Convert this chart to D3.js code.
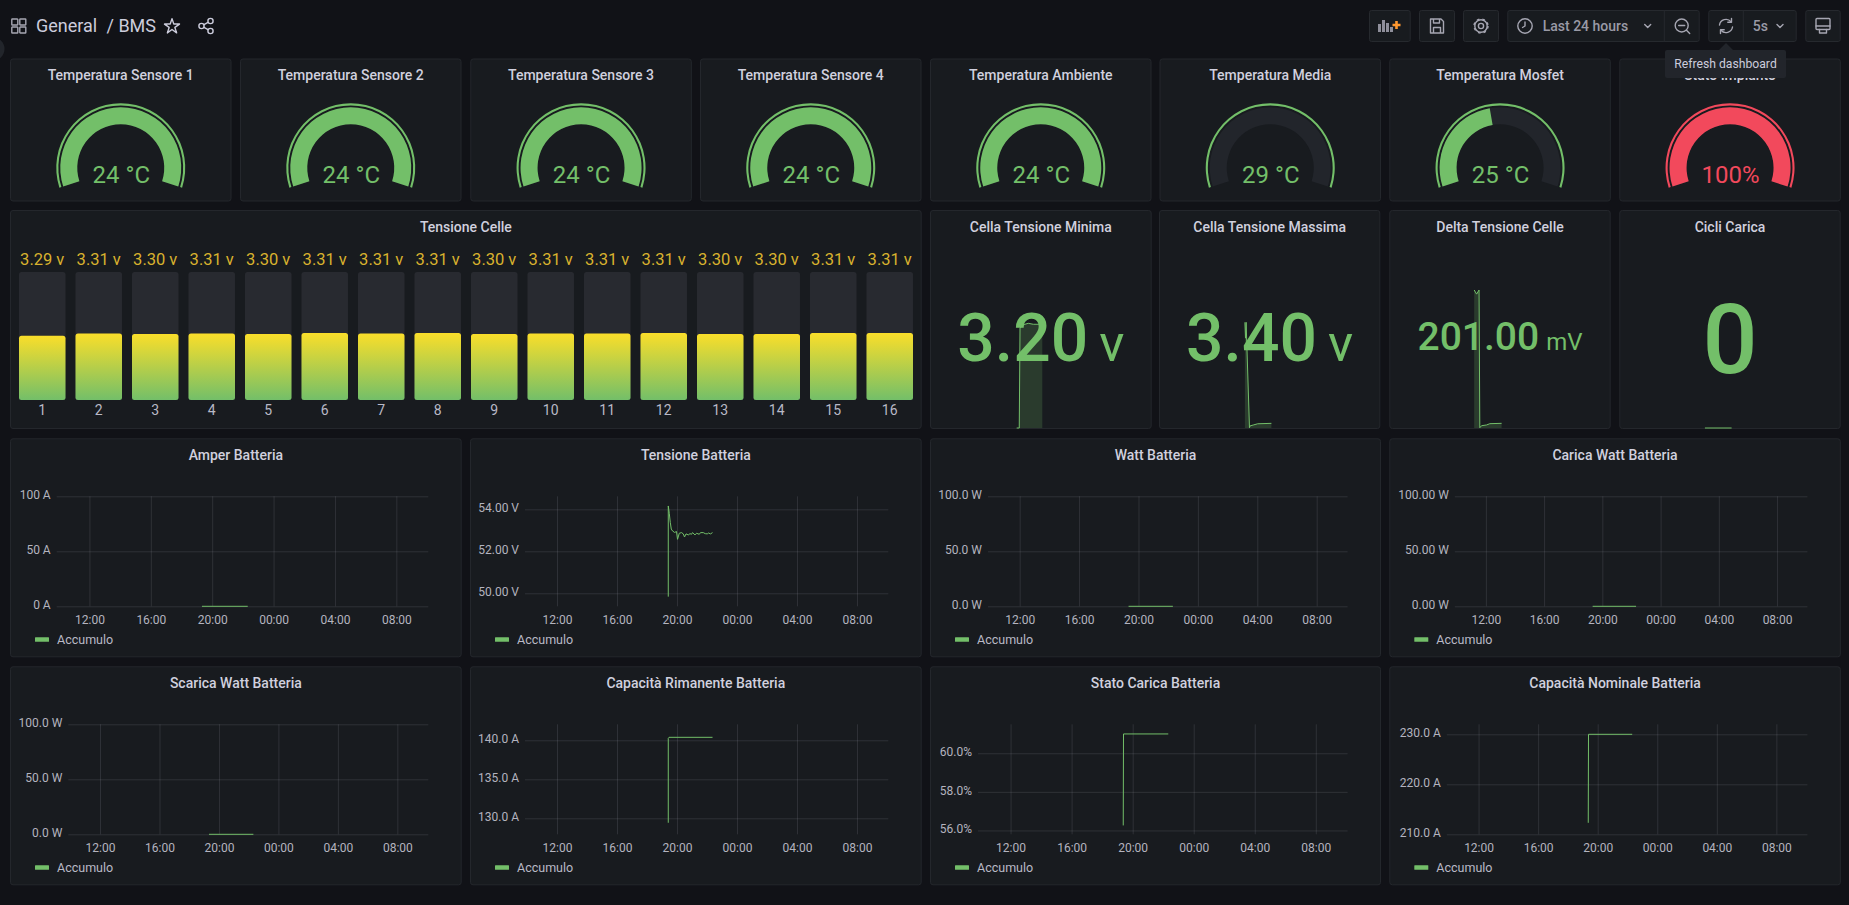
<!DOCTYPE html>
<html>
<head>
<meta charset="utf-8">
<title>BMS</title>
<script src="https://cdn.jsdelivr.net/npm/d3@7"></script>
<style>
  html, body { margin: 0; padding: 0; background: #111217; overflow: hidden; }
  svg { display: block; font-family: Roboto, sans-serif; }
  .axis path.domain { display: none; }
  .axis line { stroke: #ccccdc; stroke-opacity: 0.13; }
  .axis text { fill: #b4b4bf; font-size: 12px; font-family: Roboto, sans-serif; }
  .title { fill: #d0d0de; font-size: 14px; font-weight: 500; text-anchor: middle; dominant-baseline: central; }
  .icon { fill: none; stroke: #a6a6b2; stroke-width: 1.4; stroke-linecap: round; stroke-linejoin: round; }
  .tool { fill: #181b1f; stroke: #26292e; }
</style>
</head>
<body>
<svg id="dash" width="1849" height="905"></svg>
<script>
// --- gauges ---
const gaugeTitles = ['Temperatura Sensore 1', 'Temperatura Sensore 2', 'Temperatura Sensore 3', 'Temperatura Sensore 4',
    'Temperatura Ambiente', 'Temperatura Media', 'Temperatura Mosfet', 'Stato Impianto'];
const gaugeValues = [24, 24, 24, 24, 24, 29, 25, 100];
const gaugeMins = [0, 0, 0, 0, 0, 29, 0, 0];
const gaugeMaxs = [24, 24, 24, 24, 24, 60, 55, 100];
const gaugeLabels = ['24 °C', '24 °C', '24 °C', '24 °C', '24 °C', '29 °C', '25 °C', '100%'];
const gaugeColors = ['green', 'green', 'green', 'green', 'green', 'green', 'green', 'red'];

// --- cell voltages ---
const cellNames = ['1', '2', '3', '4', '5', '6', '7', '8', '9', '10', '11', '12', '13', '14', '15', '16'];
const cellVolts = [3.292, 3.306, 3.304, 3.306, 3.304, 3.31, 3.306, 3.31, 3.304, 3.306, 3.306, 3.31, 3.304, 3.304, 3.31, 3.31];
const cellDomain = [2.86, 3.72];

// --- stat sparklines ---
const minTimes = ['19:20', '19:37', '19:42', '20:14', '20:36', '21:09', '21:48', '22:08'];
const minValues = [0, 0, 3.15, 3.26, 3.29, 3.26, 3.26, 3.24];
const maxTimes = ['19:16', '19:20', '19:24', '19:46', '19:50', '20:10', '20:40', '22:10'];
const maxValues = [3.4, 3.385, 3.4, 3.3003, 3.302, 3.3028, 3.304, 3.3044];
const deltaTimes = ['19:09', '19:25', '19:41', '19:46', '19:57', '20:30', '20:52', '22:09'];
const deltaValues = [201, 195, 201, 0.4, 3.3, 4.4, 6.3, 6.8];
const cicliTimes = ['19:14', '22:09'];
const cicliValues = [0, 0];

// --- time series ---
const timeDomain = ['09:52', '10:05'];
const hourTicks = ['12:00', '16:00', '20:00', '00:00', '04:00', '08:00'];

const flatTimes = ['19:20', '22:19'];
const flatValues = [0, 0];

const amperTicks = [0, 50, 100];
const amperLabels = ['0 A', '50 A', '100 A'];
const wattTicks = [0, 50, 100];
const wattLabels = ['0.0 W', '50.0 W', '100.0 W'];
const caricaLabels = ['0.00 W', '50.00 W', '100.00 W'];

const tensioneTicks = [50, 52, 54];
const tensioneLabels = ['50.00 V', '52.00 V', '54.00 V'];
const tensioneDomain = [49.38, 54.62];
const tensioneTimes = ['19:25', '19:25', '19:29', '19:33', '19:37', '19:42', '19:50', '19:58', '20:02', '20:09', '20:18', '20:25', '20:30', '20:36',
    '20:45', '20:52', '20:58', '21:02', '21:12', '21:18', '21:29', '21:34', '21:45', '21:53', '22:01', '22:06', '22:14', '22:22'];
const tensioneValues = [49.84, 54.16, 53.81, 53.38, 53.06, 52.97, 52.9, 52.94, 52.57, 52.86, 52.89, 52.83, 52.68, 52.83,
    52.78, 52.84, 52.81, 52.89, 52.78, 52.86, 52.81, 52.89, 52.89, 52.84, 52.83, 52.87, 52.83, 52.89];

const rimanenteTicks = [130, 135, 140];
const rimanenteLabels = ['130.0 A', '135.0 A', '140.0 A'];
const rimanenteDomain = [127.95, 142.05];
const rimanenteTimes = ['19:25', '19:25', '19:28', '22:22'];
const rimanenteValues = [129.43, 140.25, 140.38, 140.38];

const statoTicks = [56, 58, 60];
const statoLabels = ['56.0%', '58.0%', '60.0%'];
const statoDomain = [55.8, 61.5];
const statoTimes = ['19:23', '19:24', '22:20'];
const statoValues = [56.26, 61, 61];

const nominaleTicks = [210, 220, 230];
const nominaleLabels = ['210.0 A', '220.0 A', '230.0 A'];
const nominaleDomain = [210, 232];
const nominaleTimes = ['19:22', '19:23', '22:19'];
const nominaleValues = [212.3, 230, 230];

const GREEN = '#73bf69', RED = '#f2495c', YELLOW = '#fade2a', TRACK = '#22252b';
const svg = d3.select('#dash');

const parseHour = d3.timeParse('%H:%M');
function toTime(s) {
    let d = parseHour(s);
    // hours before 09:00 belong to the next day
    return d.getHours() < 9 ? d3.timeDay.offset(d, 1) : d;
}
const xDomain = [toTime(timeDomain[0]), d3.timeDay.offset(toTime(timeDomain[1]), 1)];

function panel(x, y, w, h, title) {
    let g = svg.append('g').attr('transform', `translate(${x},${y})`);
    g.append('rect').attr('x', 0.5).attr('y', 0.5).attr('width', w - 1).attr('height', h - 1)
        .attr('rx', 2.5).attr('fill', '#181b1f').attr('stroke', '#24272c');
    g.append('text').attr('class', 'title').attr('x', w / 2).attr('y', 16.6).text(title);
    return g;
}

// --- page bits that sit under the panels ---
svg.append('circle').attr('cx', -7).attr('cy', 49).attr('r', 11.5).attr('fill', '#22252b');

// row 1: gauges
const gaugeX = [10, 240, 470.3, 700, 930, 1159.5, 1389.3, 1619.3];
function drawGauge(i) {
    let w = 221.5;
    let g = panel(gaugeX[i], 58.5, w, 143, gaugeTitles[i]);
    let c = g.append('g').attr('transform', `translate(${w / 2},109.3)`);
    let color = gaugeColors[i] === 'red' ? RED : GREEN;
    let angle = d3.scaleLinear().domain([gaugeMins[i], gaugeMaxs[i]])
        .range([-0.6 * Math.PI, 0.6 * Math.PI]).clamp(true);
    let band = d3.arc().innerRadius(43.5).outerRadius(60.5);
    let rim = d3.arc().innerRadius(62.4).outerRadius(64.5);
    c.append('path').attr('fill', color).attr('d', rim({ startAngle: angle.range()[0], endAngle: angle.range()[1] }));
    c.append('path').attr('fill', TRACK).attr('d', band({ startAngle: angle.range()[0], endAngle: angle.range()[1] }));
    c.append('path').attr('fill', color).attr('d', band({ startAngle: angle.range()[0], endAngle: angle(gaugeValues[i]) }));
    g.append('text').attr('x', w / 2 + 0.5).attr('y', 124.2).attr('text-anchor', 'middle')
        .attr('font-size', 24).attr('font-weight', 450).attr('fill', color).text(gaugeLabels[i]);
}
gaugeTitles.forEach((d, i) => drawGauge(i));

// row 2: bar gauge
function drawCells() {
    let g = panel(10, 210, 911.7, 219, 'Tensione Celle');
    let top = 62, bottom = 190;
    let grad = svg.append('defs').append('linearGradient').attr('id', 'cellFill')
        .attr('x1', 0).attr('y1', 1).attr('x2', 0).attr('y2', 0);
    grad.append('stop').attr('offset', 0).attr('stop-color', GREEN);
    grad.append('stop').attr('offset', 1).attr('stop-color', YELLOW);
    let x = d3.scaleBand().domain(cellNames).range([4, 908]).paddingInner(0.177).paddingOuter(0.0885);
    let y = d3.scaleLinear().domain(cellDomain).range([bottom, top]);
    let cell = g.selectAll('g.cell').data(cellNames).enter().append('g').attr('class', 'cell')
        .attr('transform', d => `translate(${x(d)},0)`);
    cell.append('rect').attr('y', top).attr('width', x.bandwidth()).attr('height', bottom - top)
        .attr('rx', 2.5).attr('fill', '#282a30');
    cell.append('rect').attr('y', (d, i) => y(cellVolts[i])).attr('width', x.bandwidth())
        .attr('height', (d, i) => bottom - y(cellVolts[i])).attr('rx', 2.5).attr('fill', 'url(#cellFill)');
    cell.append('text').attr('x', x.bandwidth() / 2).attr('y', 55).attr('text-anchor', 'middle')
        .attr('font-size', 16.5).attr('fill', '#d9b22e').text((d, i) => cellVolts[i].toFixed(2) + ' v');
    cell.append('text').attr('x', x.bandwidth() / 2).attr('y', 205).attr('text-anchor', 'middle')
        .attr('font-size', 14).attr('fill', '#b9b9c6').text(d => d);
}
drawCells();

function drawStat(x0, w, title, times, values, yDomain, number, unit, opts) {
    let h = 219;
    let g = panel(x0, 210, w, h, title);
    let x = d3.scaleTime().domain(xDomain).range([0, w]);
    let y = d3.scaleLinear().domain(yDomain).range([h - 1, opts.sparkTop]);
    let pts = times.map((t, i) => [toTime(t), values[i]]);
    g.append('path').attr('fill', GREEN).attr('fill-opacity', 0.2)
        .attr('d', d3.area().x(d => x(d[0])).y0(h - 1).y1(d => y(d[1]))(pts));
    g.append('path').attr('fill', 'none').attr('stroke', GREEN).attr('stroke-width', 1)
        .attr('d', d3.line().x(d => x(d[0])).y(d => y(d[1]))(pts));
    let t = g.append('text').attr('x', w / 2 + opts.shift).attr('y', opts.baseline).attr('text-anchor', 'middle')
        .attr('fill', GREEN);
    t.append('tspan').attr('font-size', opts.size).attr('font-weight', 500).text(number);
    if (unit) t.append('tspan').attr('font-size', opts.unitSize).attr('font-weight', 400).attr('dx', opts.gap).text(unit);
}
drawStat(930, 221.7, 'Cella Tensione Minima', minTimes, minValues, [0, 3.3], '3.20', 'v',
    { sparkTop: 113, baseline: 151, size: 66, unitSize: 52, gap: 11, shift: 0 });
drawStat(1159, 221.3, 'Cella Tensione Massima', maxTimes, maxValues, [3.3, 3.4], '3.40', 'v',
    { sparkTop: 112.3, baseline: 151, size: 66, unitSize: 52, gap: 11, shift: 0 });
drawStat(1389.3, 221.4, 'Delta Tensione Celle', deltaTimes, deltaValues, [0, 201], '201.00', 'mV',
    { sparkTop: 80, baseline: 140, size: 39, unitSize: 24, gap: 7, shift: 0 });
drawStat(1619.3, 221.4, 'Cicli Carica', cicliTimes, cicliValues, [0, 1], '0', '',
    { sparkTop: 100, baseline: 163.3, size: 97, unitSize: 0, gap: 0, shift: 0 });

// rows 3 and 4: time series
function drawSeries(x0, y0, w, title, leftPad, times, values, yDomain, yTicks, yLabels) {
    let h = 219;
    let g = panel(x0, y0, w, h, title);
    let left = leftPad, right = w - 33.4, top = 58, bottom = 168;
    let x = d3.scaleTime().domain(xDomain).range([left, right]);
    let y = d3.scaleLinear().domain(yDomain).range([bottom, top]);

    let ya = g.append('g').attr('class', 'axis').attr('transform', `translate(${left},0)`)
        .call(d3.axisLeft(y).tickValues(yTicks).tickFormat((d, i) => yLabels[i]).tickSize(-(right - left)).tickPadding(6));
    ya.selectAll('text').attr('dy', '0.2em');
    g.append('g').attr('class', 'axis').attr('transform', `translate(0,${bottom})`)
        .call(d3.axisBottom(x).tickValues(hourTicks.map(toTime)).tickFormat(d3.timeFormat('%H:%M'))
            .tickSize(-(bottom - top)).tickPadding(9));

    let pts = times.map((t, i) => [toTime(t), values[i]]);
    g.append('path').attr('fill', 'none').attr('stroke', GREEN).attr('stroke-width', 1)
        .attr('d', d3.line().x(d => x(d[0])).y(d => y(d[1]))(pts));

    g.append('rect').attr('x', 25).attr('y', 199).attr('width', 14).attr('height', 4.5).attr('rx', 0.5).attr('fill', GREEN);
    g.append('text').attr('x', 47).attr('y', 206).attr('font-size', 12.5).attr('fill', '#b9b9c6').text('Accumulo');
}
const R3 = 438.3, R4 = 666.3;
drawSeries(10, R3, 451.7, 'Amper Batteria', 46.7, flatTimes, flatValues, [0, 100], amperTicks, amperLabels);
drawSeries(470, R3, 451.7, 'Tensione Batteria', 55, tensioneTimes, tensioneValues, tensioneDomain, tensioneTicks, tensioneLabels);
drawSeries(930, R3, 451, 'Watt Batteria', 58, flatTimes, flatValues, [0, 100], wattTicks, wattLabels);
drawSeries(1389.3, R3, 451.5, 'Carica Watt Batteria', 65.5, flatTimes, flatValues, [0, 100], wattTicks, caricaLabels);
drawSeries(10, R4, 451.7, 'Scarica Watt Batteria', 58.3, flatTimes, flatValues, [0, 100], wattTicks, wattLabels);
drawSeries(470, R4, 451.7, 'Capacità Rimanente Batteria', 55, rimanenteTimes, rimanenteValues, rimanenteDomain, rimanenteTicks, rimanenteLabels);
drawSeries(930, R4, 451, 'Stato Carica Batteria', 48, statoTimes, statoValues, statoDomain, statoTicks, statoLabels);
drawSeries(1389.3, R4, 451.5, 'Capacità Nominale Batteria', 57.5, nominaleTimes, nominaleValues, nominaleDomain, nominaleTicks, nominaleLabels);

// --- top bar ---
const bar = svg.append('g');
function icon(cx, cy) {
    return bar.append('g').attr('class', 'icon').attr('transform', `translate(${cx},${cy})`);
}
function toolBox(x0, x1) {
    bar.append('rect').attr('class', 'tool').attr('x', x0 + 0.5).attr('y', 10.5).attr('width', x1 - x0 - 1).attr('height', 31).attr('rx', 2);
}
function divider(x) {
    bar.append('line').attr('x1', x).attr('x2', x).attr('y1', 10.5).attr('y2', 41.5).attr('stroke', '#26292e');
}
function chevron(cx, cy) {
    icon(cx, cy).append('path').attr('d', 'M-3,-1.5 L0,1.5 L3,-1.5');
}

// breadcrumb
let grid = icon(18.8, 26);
[[-7, -7], [1, -7], [-7, 1], [1, 1]].forEach(p =>
    grid.append('rect').attr('x', p[0]).attr('y', p[1]).attr('width', 6).attr('height', 6).attr('rx', 0.5));
bar.append('text').attr('x', 36).attr('y', 32).attr('font-size', 18).attr('fill', '#ccccdc').text('General');
bar.append('text').attr('x', 106.5).attr('y', 32).attr('font-size', 18).attr('fill', '#ccccdc').text('/ BMS');
let star = icon(172, 26.5).style('stroke', '#ccccdc');
star.append('path').attr('d', d3.symbol(d3.symbolStar, 70)());
let share = icon(206, 26).style('stroke', '#ccccdc');
share.append('circle').attr('cx', -4.5).attr('r', 2.6);
share.append('circle').attr('cx', 4.5).attr('cy', -5).attr('r', 2.6);
share.append('circle').attr('cx', 4.5).attr('cy', 5).attr('r', 2.6);
share.append('path').attr('d', 'M-2,-1.3 L2,-3.6 M-2,1.3 L2,3.6');

// add panel
toolBox(1369, 1410.7);
let add = bar.append('g').attr('transform', 'translate(1378,26)');
[[0, -2, 3, 8], [4, -6, 3, 12], [8, -3, 3, 9], [12, 1, 3, 5]].forEach(r =>
    add.append('rect').attr('x', r[0]).attr('y', r[1]).attr('width', r[2]).attr('height', r[3]).attr('fill', '#8f8f9b'));
add.append('path').attr('d', 'M18.5,-5 V3 M14.5,-1 H22.5').attr('stroke', '#ff9830').attr('stroke-width', 2.6);

// save
toolBox(1419, 1455);
icon(1437, 26).append('path').attr('d', 'M-6.5,-7 H4 L6.5,-4.5 V7 H-6.5 Z M-3.5,-7 V-3 H2.5 V-7 M-3.5,7 V1.5 H3.5 V7');

// settings
toolBox(1463, 1499);
let gear = icon(1481, 26);
gear.append('circle').attr('r', 2.6);
gear.append('circle').attr('r', 6.2);
gear.append('circle').attr('r', 7).attr('stroke-dasharray', '2.6 3.1').attr('stroke-linecap', 'butt').attr('stroke-width', 1.4);

// time range
toolBox(1507.3, 1699.7);
divider(1664.3);
let clock = icon(1525, 26);
clock.append('circle').attr('r', 7.2);
clock.append('path').attr('d', 'M0,-4 V0 L-2.5,1.5');
bar.append('text').attr('x', 1542.7).attr('y', 31).attr('font-size', 14).attr('font-weight', 500).attr('fill', '#9a9aa6').text('Last 24 hours');
chevron(1647.7, 26);
let zoomOut = icon(1681.7, 25.5);
zoomOut.append('circle').attr('r', 6.5);
zoomOut.append('path').attr('d', 'M-3,0 H3 M4.8,4.8 L8,8');

// refresh
toolBox(1708.3, 1796.7);
divider(1743.3);
let refresh = icon(1726, 26);
refresh.append('path').attr('d', 'M-6.5,-1 A6.6,6.6 0 0 1 5,-4.3 M6.5,1 A6.6,6.6 0 0 1 -5,4.3');
refresh.append('path').attr('d', 'M5.5,-7.5 V-3.8 H1.8 M-5.5,7.5 V3.8 H-1.8');
bar.append('text').attr('x', 1752.7).attr('y', 31).attr('font-size', 14).attr('font-weight', 500).attr('fill', '#9a9aa6').text('5s');
chevron(1780, 26);

// tv mode
toolBox(1805.3, 1840.7);
let tv = icon(1823, 26);
tv.append('rect').attr('x', -7).attr('y', -7.5).attr('width', 14).attr('height', 11).attr('rx', 1);
tv.append('path').attr('d', 'M-7,0 H7 M-3.5,3.5 V7 H3.5 V3.5');

// tooltip over the last gauge title
bar.append('path').attr('fill', '#22252b').attr('d', 'M1719,50 L1726,43 L1733,50 Z');
bar.append('rect').attr('x', 1665).attr('y', 50).attr('width', 121).attr('height', 28).attr('rx', 2).attr('fill', '#22252b');
bar.append('text').attr('x', 1725.5).attr('y', 68).attr('text-anchor', 'middle').attr('font-size', 12.2).attr('fill', '#ccccdc').text('Refresh dashboard');
</script>
</body>
</html>
